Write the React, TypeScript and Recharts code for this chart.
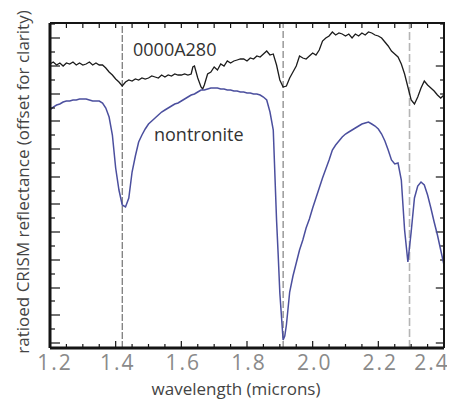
import React from 'react';
import { LineChart, Line, XAxis, YAxis, ReferenceLine } from 'recharts';

// wavelength (microns) and ratioed reflectance
const crismWl = [
  1.2, 1.21, 1.22, 1.23, 1.24, 1.25, 1.26, 1.27, 1.28, 1.29, 1.3, 1.31, 1.32, 1.33, 1.34, 1.35, 1.36, 1.37, 1.38, 1.39,
  1.4, 1.41, 1.42, 1.43, 1.44, 1.45, 1.46, 1.47, 1.48, 1.49, 1.5, 1.51, 1.52, 1.53, 1.54, 1.55, 1.56, 1.57, 1.58, 1.59,
  1.6, 1.61, 1.62, 1.63, 1.635, 1.64, 1.65, 1.66, 1.665, 1.67, 1.68, 1.69, 1.7, 1.71, 1.72, 1.73, 1.74, 1.75, 1.76, 1.77,
  1.78, 1.79, 1.8, 1.81, 1.82, 1.83, 1.84, 1.85, 1.86, 1.87, 1.88, 1.89, 1.9, 1.91, 1.92, 1.93, 1.94, 1.95, 1.96, 1.97,
  1.98, 1.99, 2.0, 2.01, 2.02, 2.03, 2.04, 2.05, 2.06, 2.07, 2.08, 2.09, 2.1, 2.11, 2.12, 2.13, 2.14, 2.15, 2.16, 2.17,
  2.18, 2.19, 2.2, 2.21, 2.22, 2.23, 2.24, 2.25, 2.26, 2.27, 2.28, 2.29, 2.3, 2.31, 2.32, 2.33, 2.34, 2.35, 2.36, 2.37,
  2.38, 2.39, 2.4,
];
const crismR = [
  2.84, 2.86, 2.83, 2.85, 2.82, 2.85, 2.84, 2.86, 2.83, 2.85, 2.83, 2.84, 2.86, 2.83, 2.85, 2.83, 2.83, 2.8, 2.76, 2.73,
  2.69, 2.66, 2.62, 2.66, 2.68, 2.67, 2.69, 2.68, 2.7, 2.69, 2.7, 2.72, 2.71, 2.7, 2.73, 2.71, 2.73, 2.72, 2.74, 2.73,
  2.73, 2.74, 2.73, 2.74, 2.81, 2.82, 2.7, 2.61, 2.59, 2.63, 2.74, 2.76, 2.81, 2.78, 2.84, 2.82, 2.87, 2.85, 2.87, 2.88,
  2.89, 2.89, 2.87, 2.9, 2.89, 2.92, 2.91, 2.94, 2.97, 2.93, 2.94, 2.83, 2.68, 2.61, 2.62, 2.7, 2.76, 2.82, 2.92, 2.9,
  2.89, 2.92, 2.95, 2.93, 2.98, 3.07, 3.1, 3.12, 3.16, 3.13, 3.15, 3.14, 3.12, 3.14, 3.1, 3.14, 3.12, 3.15, 3.13, 3.16,
  3.15, 3.13, 3.12, 3.1, 3.06, 3.02, 2.97, 2.94, 2.91, 2.84, 2.74, 2.61, 2.48, 2.44, 2.51, 2.6, 2.67, 2.63, 2.6, 2.57,
  2.53, 2.5, 2.53,
];

const nontWl = [
  1.2, 1.21, 1.22, 1.23, 1.24, 1.25, 1.26, 1.27, 1.28, 1.29, 1.3, 1.31, 1.32, 1.33, 1.34, 1.35, 1.36, 1.37, 1.38, 1.39,
  1.4, 1.41, 1.42, 1.43, 1.44, 1.45, 1.46, 1.47, 1.48, 1.49, 1.5, 1.51, 1.52, 1.53, 1.54, 1.55, 1.56, 1.57, 1.58, 1.59,
  1.6, 1.61, 1.62, 1.63, 1.64, 1.65, 1.66, 1.67, 1.68, 1.69, 1.7, 1.71, 1.72, 1.73, 1.74, 1.75, 1.76, 1.77, 1.78, 1.79,
  1.8, 1.81, 1.82, 1.83, 1.84, 1.85, 1.86, 1.87, 1.88, 1.89, 1.895, 1.9, 1.91, 1.915, 1.92, 1.93, 1.94, 1.95, 1.96, 1.97,
  1.98, 1.99, 2.0, 2.01, 2.02, 2.03, 2.04, 2.05, 2.06, 2.07, 2.08, 2.09, 2.1, 2.11, 2.12, 2.13, 2.14, 2.15, 2.16, 2.17,
  2.18, 2.19, 2.2, 2.21, 2.22, 2.23, 2.24, 2.25, 2.26, 2.27, 2.28, 2.29, 2.3, 2.31, 2.32, 2.33, 2.34, 2.35, 2.36, 2.37,
  2.38, 2.39, 2.4,
];
const nontR = [
  2.38, 2.41, 2.43, 2.44, 2.46, 2.47, 2.47, 2.48, 2.48, 2.49, 2.49, 2.49, 2.48, 2.47, 2.47, 2.47, 2.45, 2.4, 2.31, 2.13,
  1.8, 1.58, 1.43, 1.41, 1.5, 1.76, 1.92, 2.06, 2.13, 2.19, 2.24, 2.27, 2.3, 2.33, 2.36, 2.38, 2.4, 2.42, 2.44, 2.45,
  2.47, 2.49, 2.51, 2.53, 2.54, 2.56, 2.58, 2.58, 2.59, 2.6, 2.6, 2.6, 2.59, 2.59, 2.58, 2.58, 2.57, 2.57, 2.56, 2.56,
  2.55, 2.55, 2.54, 2.54, 2.53, 2.51, 2.48, 2.36, 2.18, 1.28, 0.93, 0.55, 0.08, 0.12, 0.23, 0.56, 0.72, 0.85, 0.98, 1.08,
  1.2, 1.29, 1.4, 1.5, 1.6, 1.7, 1.79, 1.88, 1.98, 2.03, 2.07, 2.11, 2.14, 2.16, 2.18, 2.2, 2.22, 2.24, 2.25, 2.26,
  2.24, 2.22, 2.19, 2.14, 2.07, 1.98, 1.88, 1.84, 1.85, 1.68, 1.18, 0.86, 1.16, 1.5, 1.62, 1.66, 1.63, 1.53, 1.4, 1.26,
  1.13, 0.98, 0.83,
];

const bandCenters = [1.42, 1.91, 2.295];
const xDomain = [1.2, 2.4];
const yDomain = [0, 3.25];
const xTicks = [
  1.2, 1.25, 1.3, 1.35, 1.4, 1.45, 1.5, 1.55, 1.6, 1.65, 1.7, 1.75, 1.8, 1.85, 1.9, 1.95, 2.0, 2.05, 2.1, 2.15, 2.2,
  2.25, 2.3, 2.35, 2.4,
];
const xLabels = ['1.2', '1.4', '1.6', '1.8', '2.0', '2.2', '2.4'];
const yTicks = [
  0.05, 0.19, 0.33, 0.47, 0.6, 0.74, 0.88, 1.02, 1.16, 1.3, 1.44, 1.57, 1.71, 1.85, 1.99, 2.13, 2.27, 2.4, 2.54, 2.68,
  2.82, 2.96, 3.1, 3.24,
];

const crismData = crismWl.map((wl, i) => ({ wl, r: crismR[i] }));
const nontData = nontWl.map((wl, i) => ({ wl, r: nontR[i] }));

const W = 447, H = 392;
const M = { top: 15, right: 11, bottom: 51, left: 41 };
const INK = '#151515';
// inward tick lengths on the top and right frame, in data units
const TOP_TICK = 0.05;
const RIGHT_MAJOR = 0.025, RIGHT_MINOR = 0.012;

const BottomTick = ({ x, y, payload }: any) => {
  const v = payload.value;
  const li = xLabels.findIndex((l) => Math.abs(parseFloat(l) - v) < 1e-6);
  const lbl = li >= 0 ? xLabels[li] : null;
  const dx = li === 0 ? 5 : li === xLabels.length - 1 ? -12 : 2;
  return (
    <g>
      <line x1={x} y1={y} x2={x} y2={y - (lbl ? 7 : 4)} stroke={INK} strokeWidth={1.2} />
      {lbl && (
        <text x={x + dx} y={y + 22} textAnchor="middle" fill="#8a8a8a" fontSize={21} letterSpacing={2}
          fontFamily="'Open Sans', sans-serif">{lbl}</text>
      )}
    </g>
  );
};

const LeftTick = ({ x, y, payload }: any) => {
  const i = yTicks.indexOf(payload.value);
  return <line x1={x} y1={y} x2={x + (i % 2 === 0 ? 10 : 5)} y2={y} stroke={INK} strokeWidth={1.2} />;
};

const txt: React.CSSProperties = {
  position: 'absolute', fontFamily: "'Open Sans', sans-serif", whiteSpace: 'nowrap', lineHeight: '18px',
};

export default function App() {
  return (
    <div style={{ position: 'relative', width: W, height: H }}>
      <LineChart width={W} height={H} margin={M}>
        <XAxis dataKey="wl" type="number" domain={xDomain} ticks={xTicks} interval={0} height={1}
          tickSize={0} tickMargin={0} tick={<BottomTick />} axisLine={{ stroke: INK, strokeWidth: 3 }} allowDataOverflow />
        <YAxis type="number" domain={yDomain} ticks={yTicks} interval={0} width={1} tickSize={0}
          tickMargin={0} tick={<LeftTick />} axisLine={{ stroke: INK, strokeWidth: 3 }} allowDataOverflow />

        {xTicks.map((t) => (
          <ReferenceLine key={'t' + t} ifOverflow="visible" stroke={INK} strokeWidth={1.2}
            segment={[{ x: t, y: yDomain[1] }, { x: t, y: yDomain[1] - TOP_TICK }]} />
        ))}
        {yTicks.map((t, i) => (
          <ReferenceLine key={'r' + t} ifOverflow="visible" stroke={INK} strokeWidth={1.2}
            segment={[{ x: xDomain[1], y: t }, { x: xDomain[1] - (i % 4 === 0 ? RIGHT_MAJOR : RIGHT_MINOR), y: t }]} />
        ))}

        <ReferenceLine x={bandCenters[0]} stroke="#555" strokeWidth={1} strokeDasharray="7 2" />
        <ReferenceLine x={bandCenters[1]} stroke="#666" strokeWidth={1} strokeDasharray="7 3" />
        <ReferenceLine x={bandCenters[2]} stroke="#b5b5b5" strokeWidth={1.6} strokeDasharray="8 3" />
        <Line data={crismData} dataKey="r" type="linear" stroke="#1c1c1c" strokeWidth={1.3} dot={false}
          isAnimationActive={false} />
        <Line data={nontData} dataKey="r" type="linear" stroke="#4b4f9e" strokeWidth={1.5} dot={false}
          isAnimationActive={false} />
      </LineChart>

      {/* top and right sides of the plot frame */}
      <div style={{
        position: 'absolute', left: M.left + 1, top: M.top - 1, width: W - M.left - M.right, height: H - M.top - M.bottom,
        borderTop: `2px solid ${INK}`, borderRight: `2.5px solid ${INK}`, boxSizing: 'border-box', pointerEvents: 'none',
      }} />

      <div style={{ ...txt, left: 125, top: 32, fontSize: 18, color: '#333' }}>0000A280</div>
      <div style={{ ...txt, left: 146, top: 117, fontSize: 18, color: '#333' }}>nontronite</div>
      <div style={{ ...txt, left: 228, top: 372, fontSize: 17, color: '#444', transform: 'translateX(-50%)' }}>
        wavelength (microns)
      </div>
      <div style={{ ...txt, left: 15, top: 174, fontSize: 17, color: '#444', transform: 'translate(-50%, -50%) rotate(-90deg)' }}>
        ratioed CRISM reflectance (offset for clarity)
      </div>
    </div>
  );
}
